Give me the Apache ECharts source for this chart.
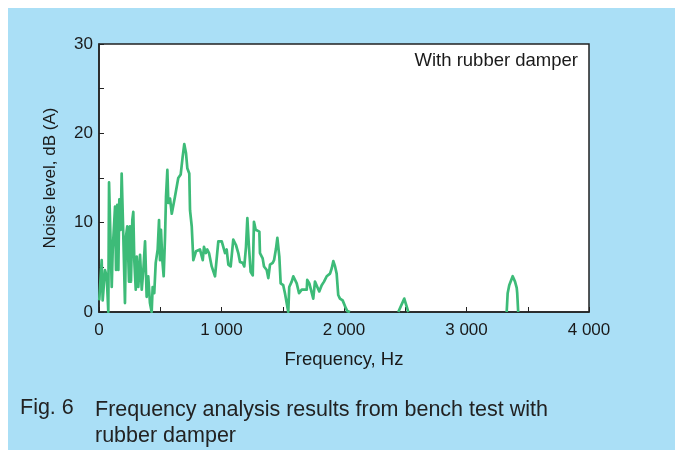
<!DOCTYPE html>
<html>
<head>
<meta charset="utf-8">
<script src="https://cdn.jsdelivr.net/npm/echarts@6/dist/echarts.min.js"></script>
<style>
  html, body { margin: 0; padding: 0; background: #fff; }
  #chart { width: 675px; height: 450px; }
</style>
</head>
<body>
<div id="chart"></div>
<script>
// Frequency (Hz) and noise level (dB(A)); null breaks the trace where it drops below 0
const freqs = [
    2, 22, 30, 49, 63, 76, 82, 96, 104, 112, 131, 139, 149, 158, 166, 177, 185, 198, 212, 220,
    231, 245, 253, 261, 272, 280, 288, 300, 308, 321, 335, 349, 362, 376, 389, 402, 416, 430, 438, 451,
    463, 479, 490, 498, 506, 517, 528, 539, 547, 558, 566, 580, 594, 620, 647, 667, 683, 696, 710, 721,
    737, 743, 757, 770, 792, 824, 847, 857, 873, 884, 898, 920, 947, 974, 1002, 1015, 1029, 1042, 1056, 1075,
    1096, 1118, 1137, 1151, 1173, 1186, 1200, 1211, 1224, 1238, 1255, 1265, 1279, 1309, 1314, 1336, 1347, 1369, 1382, 1396,
    1418, 1429, 1445, 1456, 1472, 1483, 1504, 1518, 1532, 1545, 1553, 1573, 1586, 1600, 1614, 1633, 1655, 1696, 1700, 1717,
    1728, 1749, 1763, 1782, 1798, 1818, 1837, 1859, 1886, 1900, 1913, 1927, 1940, 1953, 1967, 1989, 2000, 2016, 2027, 2049,
    2200,
    2443, 2492, 2525,
    2900,
    3328, 3336, 3349, 3377, 3396, 3410, 3414, 3422
];
const levels = [
    1.3, 5.8, 1.3, 4.7, 4.0, 0.0, 14.5, 7.0, 2.8, 7.0, 11.8, 4.7, 12.0, 4.7, 12.6, 9.2, 15.5, 8.8, 1.0, 8.4,
    9.6, 3.4, 9.6, 3.4, 10.3, 11.2, 5.8, 2.5, 6.2, 2.8, 6.4, 2.5, 4.7, 7.9, 1.7, 4.0, 1.0, 0.0, 2.8, 2.1,
    5.5, 7.0, 10.3, 5.8, 9.2, 5.8, 4.0, 8.4, 12.9, 15.9, 12.2, 12.7, 11.0, 12.9, 15.0, 15.4, 17.4, 18.8, 17.8, 16.1,
    15.5, 11.4, 9.6, 5.8, 6.8, 7.0, 5.8, 7.3, 6.6, 7.0, 6.6, 5.1, 4.0, 7.9, 7.9, 8.1, 6.6, 7.0, 5.3, 5.1,
    8.1, 7.5, 6.6, 5.6, 5.5, 5.1, 7.3, 10.5, 7.3, 4.5, 4.1, 10.1, 9.2, 9.0, 6.6, 6.0, 5.1, 4.7, 3.8, 5.3,
    5.5, 5.8, 7.1, 8.3, 6.2, 3.2, 3.0, 2.1, 2.1, 0.0, 2.8, 3.4, 4.0, 4.1, 3.2, 2.1, 2.5, 2.5, 3.6, 3.2,
    3.2, 1.5, 3.4, 2.8, 2.3, 3.0, 3.4, 4.0, 4.3, 4.9, 5.7, 5.1, 4.3, 1.9, 1.5, 1.3, 1.2, 0.4, 0.1, 0.0,
    null,
    0.0, 1.5, 0.0,
    null,
    0.0, 2.1, 3.0, 4.0, 3.4, 2.7, 2.1, 0.0
];
const xTicks = ['0', '1 000', '2 000', '3 000', '4 000'];
const yTicks = ['0', '10', '20', '30'];

const chart = echarts.init(document.getElementById('chart'));
const textColor = '#1a1a1a';
const fontFamily = 'Liberation Sans, Arial, sans-serif';

const option = {
    animation: false,
    backgroundColor: '#ffffff',
    textStyle: { fontFamily: fontFamily },
    graphic: [
        {
            type: 'rect', z: -10, silent: true,
            shape: { x: 8, y: 8, width: 667, height: 442 },
            style: { fill: '#aadff6' }
        },
        {
            type: 'text', right: 97, top: 51,
            style: { text: 'With rubber damper', fontSize: 18.5, fill: textColor, fontFamily: fontFamily }
        },
        {
            type: 'text', left: 20, top: 397,
            style: { text: 'Fig. 6', fontSize: 21.5, fill: '#222', fontFamily: fontFamily }
        },
        {
            type: 'text', left: 95, top: 397,
            style: {
                text: 'Frequency analysis results from bench test with\nrubber damper',
                fontSize: 21.5, lineHeight: 26, fill: '#222', fontFamily: fontFamily
            }
        }
    ],
    grid: {
        left: 99, right: 86, top: 44, bottom: 138,
        show: true, backgroundColor: '#ffffff',
        borderColor: '#222', borderWidth: 1.5
    },
    xAxis: {
        type: 'value', min: 0, max: 4000, interval: 500,
        name: 'Frequency, Hz', nameLocation: 'middle', nameGap: 38,
        nameTextStyle: { fontSize: 18.5, color: textColor },
        axisLine: { show: true, lineStyle: { color: '#222', width: 1.5 } },
        axisTick: { show: true, inside: true, length: 5, lineStyle: { color: '#222' } },
        splitLine: { show: false },
        axisLabel: {
            fontSize: 17, color: textColor, margin: 10,
            formatter: v => v % 1000 === 0 ? xTicks[v / 1000] : ''
        }
    },
    yAxis: {
        type: 'value', min: 0, max: 30, interval: 5,
        name: 'Noise level, dB (A)', nameLocation: 'middle', nameGap: 40,
        nameTextStyle: { fontSize: 17, color: textColor },
        axisLine: { show: true, lineStyle: { color: '#222', width: 1.5 } },
        axisTick: { show: true, inside: true, length: 5, lineStyle: { color: '#222' } },
        splitLine: { show: false },
        axisLabel: {
            fontSize: 17, color: textColor, margin: 6,
            formatter: v => v % 10 === 0 ? yTicks[v / 10] : ''
        }
    },
    series: [{
        type: 'line',
        data: freqs.map((f, i) => [f, levels[i]]),
        showSymbol: false,
        connectNulls: false,
        clip: true,
        lineStyle: { color: '#3dbb78', width: 2.7, join: 'round' }
    }]
};

chart.setOption(option);
</script>
</body>
</html>
